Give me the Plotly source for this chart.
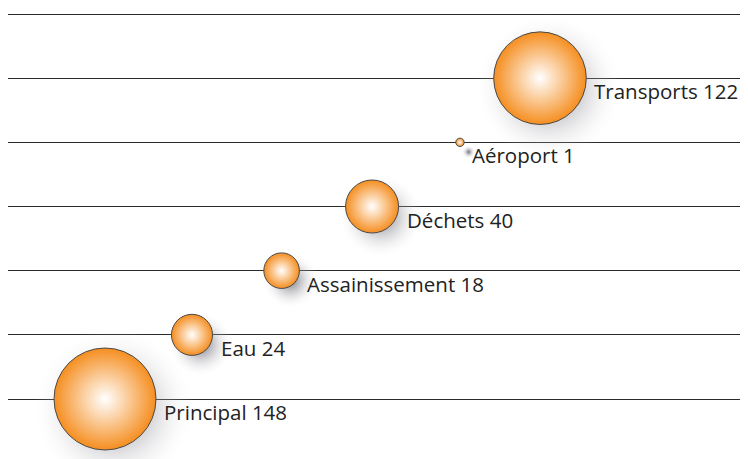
import math
import plotly.graph_objects as go

categories = ["Principal", "Eau", "Assainissement", "Déchets", "Aéroport", "Transports"]
values = [148, 24, 18, 40, 1, 122]
x_pos = [0, 1.0, 2.03, 3.07, 4.08, 5.0]
y_pos = [0, 1, 2, 3, 4, 5]

MAX_D = 102
diam = [MAX_D * math.sqrt(v / max(values)) for v in values]

fig = go.Figure()

# soft shadow
fig.add_trace(go.Scatter(
    x=[x + 0.1 for x in x_pos], y=[y - 0.15 for y in y_pos],
    mode="markers", hoverinfo="skip",
    marker=dict(size=[d * 1.6 for d in diam], color="rgba(255,255,255,0)",
                opacity=1, line=dict(width=0),
                gradient=dict(type="radial", color="rgba(50,50,65,0.7)")),
))

fig.add_trace(go.Scatter(
    x=x_pos, y=y_pos, mode="markers",
    marker=dict(size=diam, color="#F58E20", opacity=1,
                line=dict(width=1, color="#4a4a4a"),
                gradient=dict(type="radial", color="#FFFFFF")),
))

for x, y, c, v, d in zip(x_pos, y_pos, categories, values, diam):
    fig.add_annotation(x=x, y=y, text=f"{c} {v}", showarrow=False,
                       xanchor="left", yanchor="middle",
                       xshift=d / 2 + 6, yshift=-13,
                       font=dict(family="Open Sans", size=20.5, weight=500,
                                 color="#222222"))

fig.update_layout(
    width=748, height=459,
    margin=dict(l=0, r=0, t=0, b=0),
    paper_bgcolor="white", plot_bgcolor="white",
    showlegend=False,
    xaxis=dict(range=[-1.115, 7.483], showgrid=False, zeroline=False,
               showticklabels=False, ticks=""),
    yaxis=dict(range=[-1.0597, 6.0935], tickvals=[0, 1, 2, 3, 4, 5, 6],
               showgrid=True, gridcolor="#2a2a2a", gridwidth=1,
               zeroline=False, showticklabels=False, ticks=""),
)

fig.write_html("out.html")
